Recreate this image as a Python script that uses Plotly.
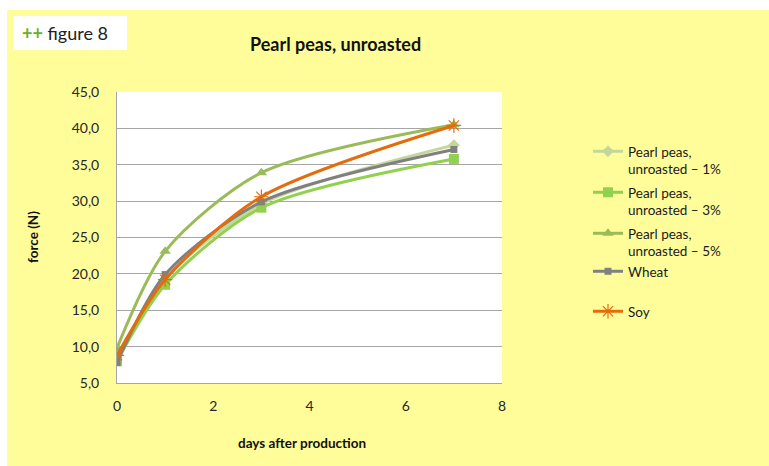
import plotly.graph_objects as go

# Force measurements (N) on days after production
days = [0, 1, 3, 7]
pearl_1 = [8.4, 19.3, 29.6, 37.7]
pearl_3 = [8.0, 18.5, 29.1, 35.8]
pearl_5 = [9.8, 23.1, 33.9, 40.5]
wheat = [7.8, 19.9, 29.9, 37.1]
soy = [8.8, 19.2, 30.6, 40.4]

series_names = [
    "Pearl peas,<br>unroasted – 1%",
    "Pearl peas,<br>unroasted – 3%",
    "Pearl peas,<br>unroasted – 5%",
    "Wheat",
    "Soy",
]
y_ticks = [5, 10, 15, 20, 25, 30, 35, 40, 45]
x_ticks = [0, 2, 4, 6, 8]

W, H = 769, 466
L, R, T, B = 117, 502, 92, 383  # plot area in pixels


def px(x):
    return (x - L) / (R - L)


def py(y):
    return (B - y) / (B - T)


YELLOW = "#FFFD9A"
FONT = "Lato"

styles = [
    dict(color="#C4D79B", symbol="diamond", size=9, lw=3),
    dict(color="#92D050", symbol="square", size=10, lw=3),
    dict(color="#9BBB59", symbol="triangle-up", size=10, lw=3),
    dict(color="#808080", symbol="square", size=7, lw=3),
    dict(color="#E46C0A", symbol="asterisk-open", size=12, lw=3),
]
values = [pearl_1, pearl_3, pearl_5, wheat, soy]

fig = go.Figure()
legend_tops = [136, 177, 218, 256, 296]
for i, (name, vals, st) in enumerate(zip(series_names, values, styles)):
    if st["symbol"] == "asterisk-open":
        marker = dict(symbol=st["symbol"], size=st["size"],
                      line=dict(color="#F7A26A", width=1.2))
    else:
        marker = dict(symbol=st["symbol"], size=st["size"], color=st["color"])
    lg = "legend" if i == 0 else f"legend{i + 1}"
    fig.add_trace(go.Scatter(
        x=days, y=vals, name=name, mode="lines+markers",
        line=dict(color=st["color"], width=st["lw"], shape="spline", smoothing=0.8),
        marker=marker, legend=lg,
    ))

legend_common = dict(
    xanchor="left", yanchor="top", bgcolor="rgba(0,0,0,0)",
    font=dict(family=FONT, size=13.5, color="#1a1a1a"), valign="top",
    itemwidth=30,
)
layout_legends = {}
for i, top in enumerate(legend_tops):
    key = "legend" if i == 0 else f"legend{i + 1}"
    layout_legends[key] = dict(x=px(588), y=py(top), **legend_common)

fig.update_layout(
    width=W, height=H,
    margin=dict(l=L, r=W - R, t=T, b=H - B, pad=0),
    paper_bgcolor=YELLOW, plot_bgcolor="white",
    separators=",.",
    showlegend=True,
    font=dict(family=FONT, color="#262626"),
    xaxis=dict(
        range=[0, 8], tickvals=x_ticks, showgrid=False, zeroline=False,
        showline=True, linecolor="#A6A6A6", linewidth=1,
        tickfont=dict(size=14, color="#262626"), ticks="", ticklabelstandoff=10,
    ),
    yaxis=dict(
        range=[5, 45], tickvals=y_ticks, tickformat=".1f",
        showgrid=True, gridcolor="#A6A6A6", gridwidth=1, zeroline=False,
        showline=True, linecolor="#A6A6A6", linewidth=1,
        tickfont=dict(size=14, color="#262626"), ticks="", ticklabelstandoff=14,
    ),
    shapes=[
        # white border strips outside the yellow panel
        dict(type="rect", xref="paper", yref="paper", x0=px(0), x1=px(W), y0=py(0), y1=py(10),
             fillcolor="white", line=dict(width=0), layer="below"),
        dict(type="rect", xref="paper", yref="paper", x0=px(0), x1=px(7), y0=py(0), y1=py(H),
             fillcolor="white", line=dict(width=0), layer="below"),
        # figure label box
        dict(type="rect", xref="paper", yref="paper", x0=px(13), x1=px(127), y0=py(50), y1=py(16),
             fillcolor="white", line=dict(width=0), layer="below"),
    ],
    annotations=[
        dict(text='<span style="color:#6AB023"><b>++</b></span> figure 8',
             x=px(20), y=py(33), xref="paper", yref="paper", xanchor="left", yanchor="middle",
             showarrow=False, font=dict(family=FONT, size=18, color="#222222")),
        dict(text="<b>Pearl peas, unroasted</b>", x=px(335), y=py(44), xref="paper", yref="paper",
             xanchor="center", yanchor="middle", showarrow=False,
             font=dict(family=FONT, size=18, color="#111111")),
        dict(text="<b>force (N)</b>", x=px(33), y=py(237), xref="paper", yref="paper",
             xanchor="center", yanchor="middle", textangle=-90, showarrow=False,
             font=dict(family=FONT, size=13.5, color="#111111")),
        dict(text="<b>days after production</b>", x=px(302), y=py(443), xref="paper", yref="paper",
             xanchor="center", yanchor="middle", showarrow=False,
             font=dict(family=FONT, size=13.5, color="#111111")),
    ],
    **layout_legends,
)

fig.write_html("out.html")
